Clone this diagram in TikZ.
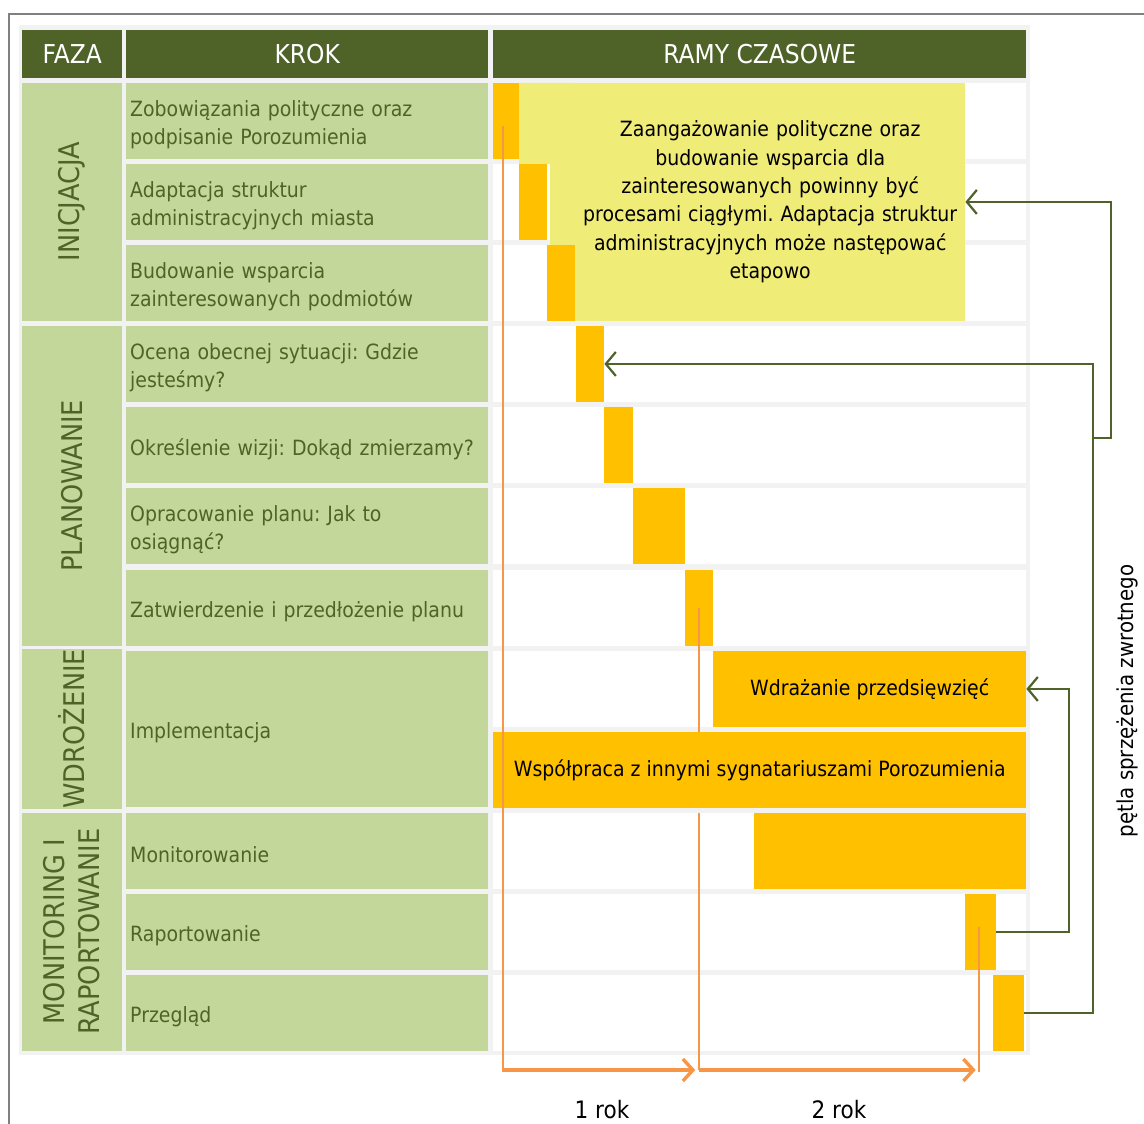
\documentclass[tikz,border=0pt]{standalone}
\usepackage{fontspec}
\setmainfont{DejaVu Sans}[FakeStretch=0.9]
\frenchspacing
\usepackage{tikz}
\usetikzlibrary{arrows.meta,calc}

\definecolor{hdrgreen}{RGB}{79,98,40}
\definecolor{cellgreen}{RGB}{196,215,155}
\definecolor{barorange}{RGB}{255,192,0}
\definecolor{noteyellow}{RGB}{240,236,120}
\definecolor{lineorange}{RGB}{247,150,70}
\definecolor{gridgray}{RGB}{242,242,242}
\definecolor{framegray}{RGB}{128,128,128}

\tikzset{
  hdr/.style={fill=hdrgreen,text=white,anchor=north west,inner sep=0pt,minimum height=48pt,font=\fontsize{26}{30}\selectfont},
  stepcell/.style={fill=cellgreen,anchor=north west,inner sep=0pt,minimum width=362pt},
  steptext/.style={text=hdrgreen,anchor=west,inner xsep=4pt,inner ysep=0pt,text width=354pt,align=left,font=\fontsize{21}{28}\selectfont},
  phase/.style={fill=cellgreen,text=hdrgreen,inner sep=0pt,rotate=90,align=center,minimum height=100pt,font=\fontsize{28.5}{35}\selectfont},
  bar/.style={fill=barorange,anchor=north west,inner sep=0pt,minimum height=75.5pt},
  bartext/.style={bar,text=black,font=\fontsize{21}{28}\selectfont},
  note/.style={fill=noteyellow,anchor=north west,inner sep=0pt,minimum width=390pt,minimum height=237.5pt,text width=384pt,align=center,font=\fontsize{21}{28.3}\selectfont},
  yearline/.style={lineorange,line width=2pt},
  yeararrow/.style={lineorange,line width=3.4pt,-{Straight Barb[length=10pt,width=22pt]}},
  fb/.style={hdrgreen,line width=2.2pt,-{Straight Barb[length=10pt,width=24pt]}},
}

\begin{document}
\begin{tikzpicture}[x=1pt,y=-1pt,line join=miter]
  \useasboundingbox (0,0) rectangle (1144,1124);
  % frame and table background
  \draw[framegray,line width=2pt] (9,1124) -- (9,14) -- (1144,14);
  \fill[gridgray] (19,25) rectangle (1030,1055);

  % header
  \node[hdr,minimum width=100pt] (hfaza) at (22,30) {FAZA};
  \node[hdr,minimum width=362pt] (hkrok) at (126,30) {KROK};
  \node[hdr,minimum width=533pt] (hramy) at (493,30) {RAMY CZASOWE};

  % phases
  \node[phase,minimum width=237.5pt] (pini) at (72,201.75) {INICJACJA};
  \node[phase,minimum width=319.5pt] (pplan) at (72,485.75) {PLANOWANIE};
  \node[phase,minimum width=155.5pt] (pwdr) at (72,728.75) {WDROŻENIE};
  \node[phase,minimum width=237.5pt] (pmon) at (72,931.75) {MONITORING I\\RAPORTOWANIE};

  % steps
  \node[stepcell,minimum height=75.5pt] (s1) at (126,83) {};
  \node[stepcell,minimum height=75.5pt] (s2) at (126,164) {};
  \node[stepcell,minimum height=75.5pt] (s3) at (126,245) {};
  \node[stepcell,minimum height=75.5pt] (s4) at (126,326) {};
  \node[stepcell,minimum height=75.5pt] (s5) at (126,407) {};
  \node[stepcell,minimum height=75.5pt] (s6) at (126,488) {};
  \node[stepcell,minimum height=75.5pt] (s7) at (126,570) {};
  \node[stepcell,minimum height=155.5pt] (s8) at (126,651) {};
  \node[stepcell,minimum height=75.5pt] (s9) at (126,813) {};
  \node[stepcell,minimum height=75.5pt] (s10) at (126,894) {};
  \node[stepcell,minimum height=75.5pt] (s11) at (126,975) {};
  \node[steptext] (t1) at ([yshift=-4pt]s1.west) {Zobowiązania polityczne oraz\\podpisanie Porozumienia};
  \node[steptext] (t2) at ([yshift=-4pt]s2.west) {Adaptacja struktur\\administracyjnych miasta};
  \node[steptext] (t3) at ([yshift=-4pt]s3.west) {Budowanie wsparcia\\zainteresowanych podmiotów};
  \node[steptext] (t4) at ([yshift=-4pt]s4.west) {Ocena obecnej sytuacji: Gdzie\\jesteśmy?};
  \node[steptext] (t5) at ([yshift=-4pt]s5.west) {Określenie wizji: Dokąd zmierzamy?};
  \node[steptext] (t6) at ([yshift=-4pt]s6.west) {Opracowanie planu: Jak to\\osiągnąć?};
  \node[steptext] (t7) at ([yshift=-4pt]s7.west) {Zatwierdzenie i przedłożenie planu};
  \node[steptext] (t8) at ([yshift=-4pt]s8.west) {Implementacja};
  \node[steptext] (t9) at ([yshift=-4pt]s9.west) {Monitorowanie};
  \node[steptext] (t10) at ([yshift=-4pt]s10.west) {Raportowanie};
  \node[steptext] (t11) at ([yshift=-4pt]s11.west) {Przegląd};

  % time rows
  \fill[white] (493,83) rectangle (1026,158.5);
  \fill[white] (493,164) rectangle (1026,239.5);
  \fill[white] (493,245) rectangle (1026,320.5);
  \fill[white] (493,326) rectangle (1026,401.5);
  \fill[white] (493,407) rectangle (1026,482.5);
  \fill[white] (493,488) rectangle (1026,563.5);
  \fill[white] (493,570) rectangle (1026,645.5);
  \fill[white] (493,651) rectangle (1026,726.5);
  \fill[white] (493,732) rectangle (1026,807.5);
  \fill[white] (493,813) rectangle (1026,888.5);
  \fill[white] (493,894) rectangle (1026,969.5);
  \fill[white] (493,975) rectangle (1026,1050.5);

  % note
  \fill[noteyellow] (519,83) -- (575,83) -- (575,320.5) -- (575,245) -- (550,245) -- (550,164) -- (519,164) -- cycle;
  \node[note] (note) at (575,83) {Zaangażowanie polityczne oraz\\budowanie wsparcia dla\\zainteresowanych powinny być\\procesami ciągłymi. Adaptacja struktur\\administracyjnych może następować\\etapowo};

  % bars
  \node[bar,minimum width=26pt] (bar1) at (493,83) {};
  \node[bar,minimum width=28pt] (bar2) at (519,164) {};
  \node[bar,minimum width=28pt] (bar3) at (547,245) {};
  \node[bar,minimum width=28pt] (bar4) at (576,326) {};
  \node[bar,minimum width=29pt] (bar5) at (604,407) {};
  \node[bar,minimum width=52pt] (bar6) at (633,488) {};
  \node[bar,minimum width=28pt] (bar7) at (685,570) {};
  \node[bartext,minimum width=313pt] (wdr) at (713,651) {Wdrażanie przedsięwzięć};
  \node[bartext,minimum width=533pt] (wsp) at (493,732) {Współpraca z innymi sygnatariuszami Porozumienia};
  \node[bar,minimum width=272pt] (bar10) at (754,813) {};
  \node[bar,minimum width=31pt] (bar11) at (965,894) {};
  \node[bar,minimum width=31pt] (bar12) at (993,975) {};

  % years
  \coordinate (base) at (0,1070);
  \draw[yearline] ($(bar1.center)+(-3,5)$) -- ($(bar1.center |- base)+(-3,0)$);
  \draw[yearline] (bar7.center) -- (bar7.center |- wsp.north);
  \draw[yearline] (bar7.center |- bar10.north) -- (bar7.center |- base);
  \draw[yearline] ($(bar11.center)+(-2,-5)$) -- ($(bar11.center |- base)+(-2,2)$);
  \draw[yeararrow] ($(bar1.center |- base)+(-4,0)$) -- ($(bar7.center |- base)+(-4,0)$);
  \draw[yeararrow] (bar7.center |- base) -- ($(bar11.center |- base)+(-5,0)$);
  \node[font=\fontsize{24}{28}\selectfont] (rok1) at (602,1110) {1 rok};
  \node[font=\fontsize{24}{28}\selectfont] (rok2) at (839,1110) {2 rok};

  % feedback loop
  \coordinate (k1) at (1069,0);
  \coordinate (k2) at (1093,0);
  \coordinate (k3) at (1111,0);
  \coordinate (split) at (1093,438);
  \draw[fb] (bar11.east) -- (bar11.east -| k1) |- (wdr.east);
  \draw[fb] (bar12.east) -- (bar12.east -| k2) |- (bar4.east);
  \draw[fb] (split) -- (split -| k3) |- (note.east);
  \node[rotate=90,font=\fontsize{22}{26}\selectfont] (fbl) at (1127,701) {pętla sprzężenia zwrotnego};
\end{tikzpicture}
\end{document}
